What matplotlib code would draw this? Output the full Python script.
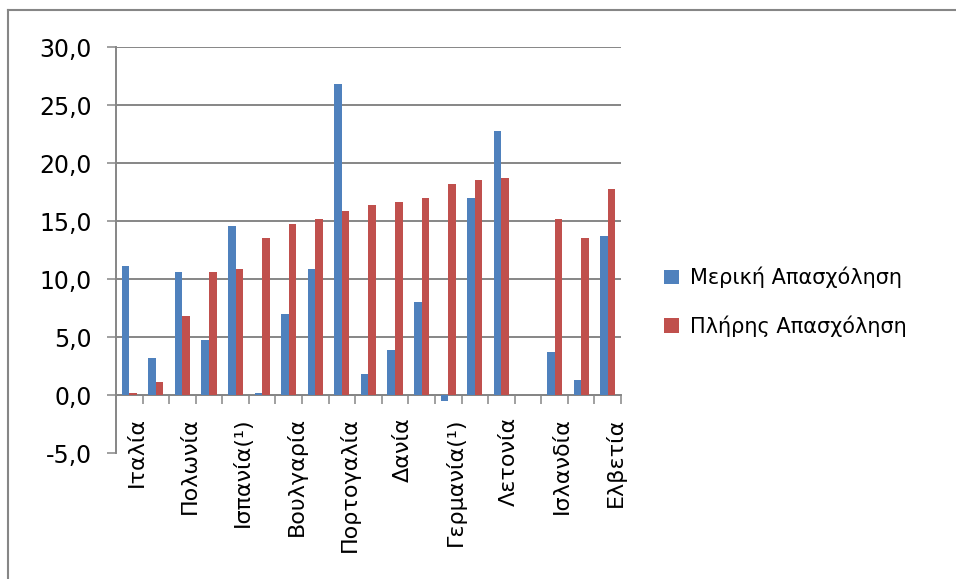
#!/usr/bin/env python3
"""
Bar chart: change in part-time vs full-time employment by country.
"""

import numpy as np
import matplotlib
matplotlib.use('Agg')
import matplotlib.pyplot as plt
from matplotlib.lines import Line2D
from matplotlib.ticker import FixedLocator, FixedFormatter, FuncFormatter
from matplotlib.transforms import ScaledTranslation

# One value per country; only every second country is named on the axis
part_time = [11.1, 3.2, 10.6, 4.7, 14.6, 0.2, 7.0, 10.9, 26.8, 1.8,
             3.9, 8.0, -0.5, 17.0, 22.8, np.nan, 3.7, 1.3, 13.7]
full_time = [0.2, 1.1, 6.8, 10.6, 10.9, 13.5, 14.7, 15.2, 15.9, 16.4,
             16.6, 17.0, 18.2, 18.5, 18.7, np.nan, 15.2, 13.5, 17.8]
labels = ['Ιταλία', 'Πολωνία', 'Ισπανία(¹)', 'Βουλγαρία', 'Πορτογαλία',
          'Δανία', 'Γερμανία(¹)', 'Λετονία', 'Ισλανδία', 'Ελβετία']
series_names = ['Μερική Απασχόληση', 'Πλήρης Απασχόληση']

BLUE = '#4F81BD'
RED = '#C0504D'
GRAY = '#868686'

plt.rcParams['font.family'] = ['DejaVu Sans']

fig = plt.figure(figsize=(9.56, 5.79), dpi=100)
ax = fig.add_axes([0.1213, 0.2176, 0.5283, 0.7012])

n = len(part_time)
x = np.arange(n)
w = 0.285
ax.bar(x - w / 2, part_time, w, color=BLUE, label=series_names[0], zorder=3)
ax.bar(x + w / 2, full_time, w, color=RED, label=series_names[1], zorder=3)

ax.set_xlim(-0.5, n - 0.5)
ax.set_ylim(-5, 30)

# y axis: ticks every 5, comma as decimal separator
yticks = np.arange(-5, 31, 5)
ax.set_yticks(yticks)
ax.yaxis.set_major_formatter(FuncFormatter(lambda v, p: f"{v:.1f}".replace('.', ',')))
for v in yticks:
    if v > -5:
        ax.axhline(v, color=GRAY, lw=1.4, zorder=1)

# category axis sits on zero; tick marks between groups, names on every second group
ax.xaxis.set_major_locator(FixedLocator(np.arange(0.5, n, 1.0)))
ax.xaxis.set_major_formatter(FuncFormatter(lambda v, p: ''))
ax.xaxis.set_minor_locator(FixedLocator(np.arange(0, n, 2)))
ax.xaxis.set_minor_formatter(FixedFormatter(labels))

for side in ['top', 'right']:
    ax.spines[side].set_visible(False)
ax.spines['left'].set_color(GRAY)
ax.spines['left'].set_linewidth(1.4)
ax.spines['bottom'].set_position(('data', 0))
ax.spines['bottom'].set_color(GRAY)
ax.spines['bottom'].set_linewidth(1.4)

ax.tick_params(axis='y', direction='out', length=6.5, width=1.1, color=GRAY,
               labelsize=17, pad=11)
ax.tick_params(axis='x', which='major', direction='out', length=6.5, width=1.1, color=GRAY)
ax.tick_params(axis='x', which='minor', length=0, pad=16, labelsize=16,
               labelrotation=90)

# nudge the rotated country names a little to the right of the group centre
shift = ScaledTranslation(5.5 / 72, 0, fig.dpi_scale_trans)
for lbl in ax.get_xticklabels(minor=True):
    lbl.set_transform(lbl.get_transform() + shift)

ax.legend(loc='center left', bbox_to_anchor=(664 / 956, 1 - 302 / 579),
          bbox_transform=fig.transFigure, frameon=False, fontsize=15,
          handlelength=0.7, handleheight=0.7, handletextpad=0.55,
          labelspacing=1.3, borderpad=0, borderaxespad=0)

# chart frame (left and top edges)
fig.add_artist(Line2D([8 / 956, 8 / 956], [0, 1 - 10 / 579],
                      transform=fig.transFigure, color=GRAY, lw=1.5))
fig.add_artist(Line2D([8 / 956, 1], [1 - 10 / 579, 1 - 10 / 579],
                      transform=fig.transFigure, color=GRAY, lw=1.5))

fig.savefig('out.png', dpi=100)
